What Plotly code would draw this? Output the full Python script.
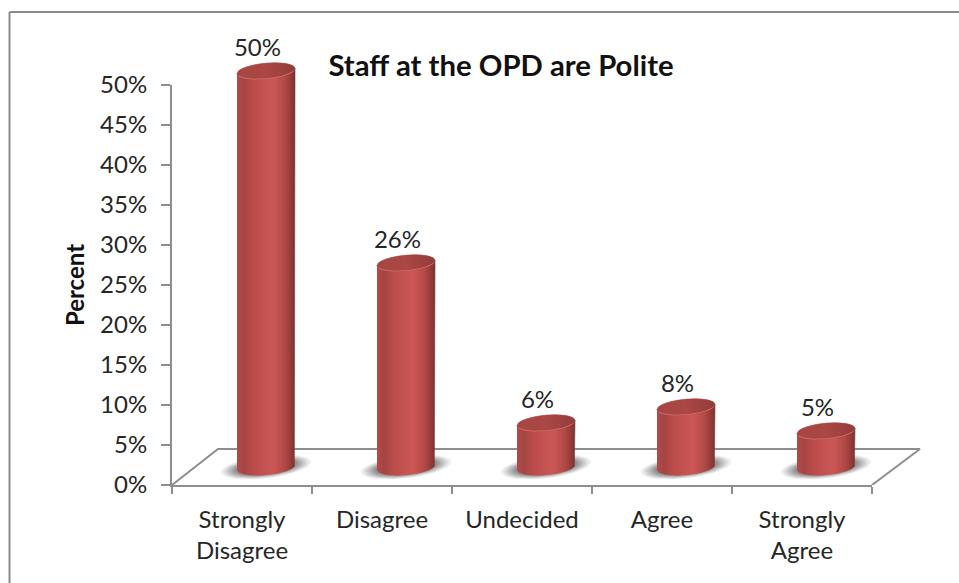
import numpy as np
import plotly.graph_objects as go

categories = ["Strongly Disagree", "Disagree", "Undecided", "Agree", "Strongly Agree"]
category_labels = ["Strongly<br>Disagree", "Disagree", "Undecided", "Agree", "Strongly<br>Agree"]
percent = [50, 26, 6, 8, 5]
y_ticks = list(range(0, 55, 5))
y_tick_labels = [f"{v}%" for v in y_ticks]

W, H = 959, 583
L, R, T, B = 172, 872, 85, 485
PX_X = 5 / (R - L)          # category units per pixel
PX_Y = 50 / (B - T)         # percent units per pixel
DEPTH_X = 46 * PX_X         # floor depth
DEPTH_Y = 36 * PX_Y
CX = [i + DEPTH_X / 2 + PX_X for i in range(len(percent))]
FLOOR_MID = DEPTH_Y / 2
A = 29 * PX_X               # cylinder half width
BY = 7.8 * PX_Y             # ellipse half height
TILT = 2.5 * PX_Y           # ellipse lean
TOP_DROP = 0.5
PAD_R, PAD_T = 60, 50       # extra room of the drawing axes

GRID = "#8e8e8e"
TEXT = "#262626"
FONT = "Lato"
SIZE = 24

stops_body = [(0, (176, 76, 74)), (.12, (166, 70, 68)), (.3, (188, 78, 76)), (.62, (204, 88, 86)),
              (.82, (178, 74, 72)), (.93, (148, 60, 58)), (1, (122, 50, 48))]
stops_cap = [(0, (166, 70, 68)), (.5, (172, 72, 70)), (1, (146, 60, 58))]


def shade(stops, u):
    xs = [s[0] for s in stops]
    c = [int(np.interp(u, xs, [s[1][k] for s in stops])) for k in range(3)]
    return f"rgb({c[0]},{c[1]},{c[2]})"


fig = go.Figure()

# plain data bars, underneath the cylinder shading
fig.add_trace(go.Bar(x=categories, y=percent, base=[FLOOR_MID - TOP_DROP] * 5, width=1.2 * A,
                     offset=DEPTH_X / 2 + PX_X - 0.6 * A, marker=dict(color="#C0504D", line_width=0),
                     hoverinfo="x+y", showlegend=False, xaxis="x", yaxis="y"))


def poly(xs, ys, color, opacity=1.0):
    fig.add_trace(go.Scatter(x=xs, y=ys, mode="lines", fill="toself", fillcolor=color,
                             line=dict(color=color, width=0.6), opacity=opacity,
                             hoverinfo="skip", showlegend=False, xaxis="x2", yaxis="y2"))


def line(xs, ys, color, width):
    fig.add_trace(go.Scatter(x=xs, y=ys, mode="lines", line=dict(color=color, width=width),
                             hoverinfo="skip", showlegend=False, xaxis="x2", yaxis="y2"))


# floor
line([-0.5, -0.5 + DEPTH_X, 4.5 + DEPTH_X + 2 * PX_X, 4.5], [0, DEPTH_Y, DEPTH_Y, 0], GRID, 2)

# shadows
t = np.linspace(0, 2 * np.pi, 50)
for scale, op in [(1.0, .08), (.94, .10), (.88, .12), (.82, .14), (.76, .17), (.7, .2)]:
    xs, ys = [], []
    for cx in CX:
        xs += list(cx + 45 * PX_X * scale * np.cos(t)) + [None]
        ys += list(FLOOR_MID + 11 * PX_Y * scale * np.sin(t) + 5 * PX_Y * np.cos(t) * scale) + [None]
    poly(xs, ys, "#4a4a4a", op)


def arc(s, sign):
    return sign * BY * np.sqrt(np.clip(1 - s * s, 0, 1)) + TILT * s


# cylinders as vertical strips
n = 29
edges = np.linspace(-1, 1, n + 1)
for k in range(n):
    ss = np.linspace(edges[k], edges[k + 1], 4)
    u = (k + .5) / n
    xs, ys, xc, yc = [], [], [], []
    for cx, v in zip(CX, percent):
        top = v + FLOOR_MID - TOP_DROP
        px = cx + A * ss
        xs += list(px) + list(px[::-1]) + [None]
        ys += list(top + arc(ss, -1)) + list((FLOOR_MID + arc(ss, -1))[::-1]) + [None]
        xc += list(px) + list(px[::-1]) + [None]
        yc += list(top + arc(ss, 1)) + list((top + arc(ss, -1))[::-1]) + [None]
    poly(xs, ys, shade(stops_body, u))
    poly(xc, yc, shade(stops_cap, u))

# light rim on the front of each cap
ss = np.linspace(-0.95, 0.95, 40)
xs, ys = [], []
for cx, v in zip(CX, percent):
    xs += list(cx + A * ss) + [None]
    ys += list(v + FLOOR_MID - TOP_DROP + arc(ss, -1)) + [None]
line(xs, ys, "#D06A66", 1.0)

# value labels
fig.add_trace(go.Scatter(x=[c - 8.5 * PX_X for c in CX], y=[v + FLOOR_MID + 2.15 for v in percent],
                         mode="text", text=[f"{v}%" for v in percent], textposition="middle center",
                         textfont=dict(family=FONT, size=SIZE, color=TEXT),
                         hoverinfo="skip", showlegend=False, xaxis="x2", yaxis="y2"))

fig.update_layout(
    width=W, height=H, margin=dict(l=0, r=0, t=0, b=0), paper_bgcolor="white", plot_bgcolor="rgba(0,0,0,0)",
    showlegend=False, barmode="overlay",
    title=dict(text="<b>Staff at the OPD are Polite</b>", x=501 / W, y=1 - 66 / H, xanchor="center",
               yanchor="middle", font=dict(family=FONT, size=29.3, color="#111111")),
    xaxis=dict(type="category", domain=[L / W, R / W], categoryorder="array", categoryarray=categories,
               range=[-0.5, 4.5], tickmode="array", tickvals=categories, ticktext=category_labels,
               tickson="boundaries", ticks="outside", ticklen=7, tickwidth=2, tickcolor=GRID, showgrid=False,
               showline=True, linecolor=GRID, linewidth=2, zeroline=False, automargin=False,
               ticklabelstandoff=12, tickfont=dict(family=FONT, size=SIZE, color=TEXT)),
    yaxis=dict(domain=[1 - B / H, 1 - T / H], range=[0, 50], tickmode="array", tickvals=y_ticks,
               ticktext=y_tick_labels, ticks="outside", ticklen=9, tickwidth=2, tickcolor=GRID, showgrid=False,
               showline=True, linecolor=GRID, linewidth=2, zeroline=False, automargin=False,
               ticklabelstandoff=9, tickfont=dict(family=FONT, size=SIZE, color=TEXT),
               title=dict(text="<b>Percent</b>", standoff=9, font=dict(family=FONT, size=SIZE, color="#111111"))),
    xaxis2=dict(domain=[L / W, (R + PAD_R) / W], range=[-0.5, 4.5 + PAD_R * PX_X], anchor="y2", visible=False),
    yaxis2=dict(domain=[1 - B / H, 1 - (T - PAD_T) / H], range=[0, 50 + PAD_T * PX_Y], anchor="x2", visible=False),
    shapes=[dict(type="line", xref="paper", yref="paper", x0=9.5 / W, x1=1, y0=1 - 12 / H, y1=1 - 12 / H,
                 line=dict(color="#8a8a8a", width=2), layer="below"),
            dict(type="line", xref="paper", yref="paper", x0=9.5 / W, x1=9.5 / W, y0=0, y1=1 - 12 / H,
                 line=dict(color="#8a8a8a", width=2), layer="below")],
)

fig.write_html("out.html", config=dict(displayModeBar=False), post_script="document.body.style.margin='0';")
